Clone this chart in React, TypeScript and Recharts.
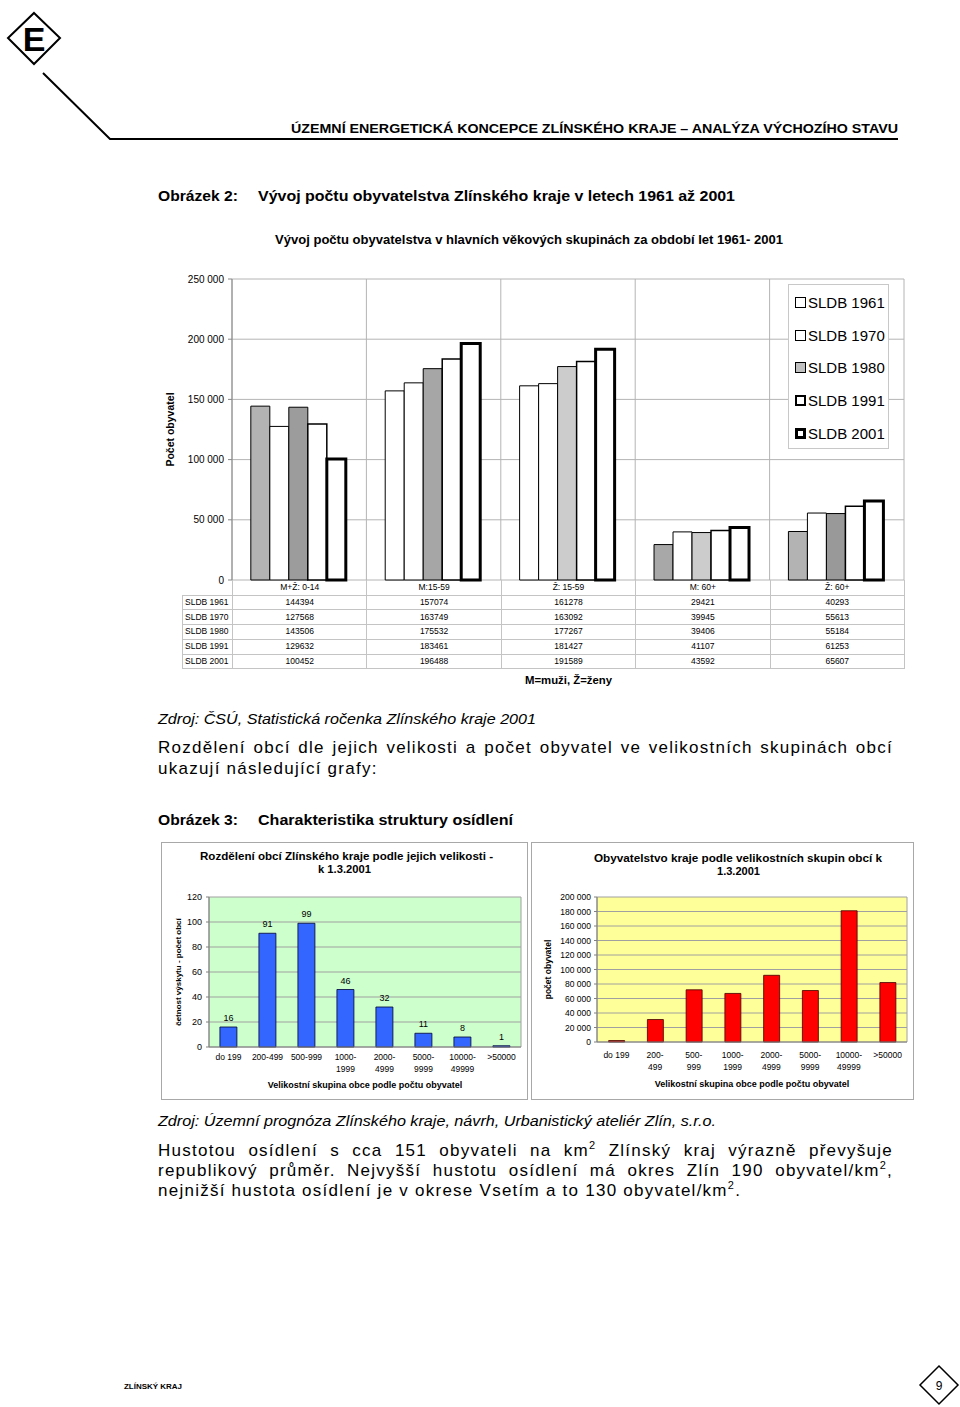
import React from "react";
import { BarChart, Bar, XAxis, YAxis, CartesianGrid, Cell, Legend, LabelList } from "recharts";

// --- Obrázek 2: census by age group ---
const ageGroups = ["M+Ž: 0-14", "M:15-59", "Ž: 15-59", "M: 60+", "Ž: 60+"];
const sldb1961 = [144394, 157074, 161278, 29421, 40293];
const sldb1970 = [127568, 163749, 163092, 39945, 55613];
const sldb1980 = [143506, 175532, 177267, 39406, 55184];
const sldb1991 = [129632, 183461, 181427, 41107, 61253];
const sldb2001 = [100452, 196488, 191589, 43592, 65607];
const censusTicks = [0, 50000, 100000, 150000, 200000, 250000];

// --- Obrázek 3: municipalities by size ---
const sizeGroupsCount = ["do 199", "200-499", "500-999", "1000-\n1999", "2000-\n4999", "5000-\n9999", "10000-\n49999", ">50000"];
const municipalityCounts = [16, 91, 99, 46, 32, 11, 8, 1];
const countTicks = [0, 20, 40, 60, 80, 100, 120];

const sizeGroupsPop = ["do 199", "200-\n499", "500-\n999", "1000-\n1999", "2000-\n4999", "5000-\n9999", "10000-\n49999", ">50000"];
const populationBySize = [2000, 31000, 72000, 67000, 92000, 71000, 181000, 82000];
const popTicks = [0, 20000, 40000, 60000, 80000, 100000, 120000, 140000, 160000, 180000, 200000];

const FONT = "'Liberation Sans', Arial, sans-serif";
const NARROW = "'Liberation Sans Narrow', 'Liberation Sans', Arial, sans-serif";

const censusSeries = [
  { key: "s1961", name: "SLDB 1961", values: sldb1961 },
  { key: "s1970", name: "SLDB 1970", values: sldb1970 },
  { key: "s1980", name: "SLDB 1980", values: sldb1980 },
  { key: "s1991", name: "SLDB 1991", values: sldb1991 },
  { key: "s2001", name: "SLDB 2001", values: sldb2001 },
];

// fills per series per group (the original is not consistent)
const censusFills = [
  ["#b3b3b3", "#ffffff", "#ffffff", "#a8a8a8", "#b3b3b3"],
  ["#ffffff", "#ffffff", "#ffffff", "#ffffff", "#ffffff"],
  ["#9c9c9c", "#a6a6a6", "#cccccc", "#cccccc", "#999999"],
  ["#ffffff", "#ffffff", "#ffffff", "#ffffff", "#ffffff"],
  ["#ffffff", "#ffffff", "#ffffff", "#ffffff", "#ffffff"],
];
const censusStrokes = [1, 1, 1, 1.5, 3];
const legendSwatchFill = ["#fff", "#fff", "#c0c0c0", "#fff", "#fff"];
const legendSwatchBorder = [1, 1, 1, 2, 3];

const censusData = ageGroups.map((g, i) => {
  const row: any = { group: g };
  censusSeries.forEach((s) => (row[s.key] = s.values[i]));
  return row;
});
const countData = sizeGroupsCount.map((g, i) => ({ group: g, count: municipalityCounts[i] }));
const popData = sizeGroupsPop.map((g, i) => ({ group: g, pop: populationBySize[i] }));

const spaced = (v: number) => String(v).replace(/\B(?=(\d{3})+(?!\d))/g, " ");

// vertical grid lines on category boundaries / plot edges
const boundaryLines = (n: number) => ({ offset }: any) =>
  Array.from({ length: n + 1 }, (_, i) => offset.left + (i * offset.width) / n);

const vTitle = (text: string, dx: number, size: number) => (props: any) => {
  const { viewBox } = props;
  const cx = viewBox.x + dx;
  const cy = viewBox.y + viewBox.height / 2;
  return (
    <text x={cx} y={cy} transform={`rotate(-90 ${cx} ${cy})`} textAnchor="middle" dominantBaseline="central"
      fontSize={size} fontWeight="bold" fontFamily={FONT} fill="#000">
      {text}
    </text>
  );
};

const MultiLineTick = (props: any) => {
  const { x, y, payload, firstDy } = props;
  const lines = String(payload.value).split("\n");
  return (
    <text x={x} y={y} textAnchor="middle" fontSize={8.5} fontFamily={FONT} fill="#000">
      {lines.map((l, i) => (
        <tspan key={i} x={x} dy={i === 0 ? firstDy : 11.5}>{l}</tspan>
      ))}
    </text>
  );
};

const CensusLegend = () => (
  <div style={{ width: 99, height: 162, border: "1px solid #c8c8c8", background: "#fff", paddingTop: 1, fontFamily: FONT }}>
    {censusSeries.map((s, i) => (
      <div key={s.key} style={{ display: "flex", alignItems: "center", height: 32.7, paddingLeft: 6 }}>
        <span style={{ width: 9 - legendSwatchBorder[i] * 2 + 2, height: 9 - legendSwatchBorder[i] * 2 + 2,
          border: `${legendSwatchBorder[i]}px solid #000`, background: legendSwatchFill[i], marginRight: 2 }} />
        <span style={{ fontSize: 15, color: "#000" }}>{s.name}</span>
      </div>
    ))}
  </div>
);

const cell: React.CSSProperties = { border: "1px solid #c4c4c4", textAlign: "center", padding: 0, lineHeight: "13px" };

const CensusTable = () => (
  <table style={{ position: "absolute", left: 182, top: 580, width: 722, borderCollapse: "collapse", tableLayout: "fixed",
    fontSize: 8.5, fontFamily: FONT, color: "#000" }}>
    <colgroup>
      <col style={{ width: 50 }} />
      {ageGroups.map((g) => <col key={g} style={{ width: 134.4 }} />)}
    </colgroup>
    <tbody>
      <tr style={{ height: 15 }}>
        <td style={{ padding: 0, border: "none" }} />
        {ageGroups.map((g) => <td key={g} style={{ ...cell, borderTop: "none" }}>{g}</td>)}
      </tr>
      {censusSeries.map((s) => (
        <tr key={s.key} style={{ height: 14.8 }}>
          <td style={{ ...cell, textAlign: "left", paddingLeft: 2, whiteSpace: "nowrap" }}>{s.name}</td>
          {s.values.map((v, i) => <td key={i} style={cell}>{v}</td>)}
        </tr>
      ))}
    </tbody>
  </table>
);

const T = (p: any) => (
  <text dominantBaseline="central" fontFamily={FONT} fill="#000" lengthAdjust="spacingAndGlyphs" {...p} />
);

const lineStyle = (last: boolean): React.CSSProperties => ({
  textAlign: last ? "left" : "justify",
  textAlignLast: last ? "left" : "justify",
  whiteSpace: "nowrap",
});

const sup = { fontSize: 11, lineHeight: 0 };

export default function App() {
  return (
    <div style={{ position: "absolute", left: 0, top: 0, width: 960, height: 1407, background: "#fff", fontFamily: FONT, color: "#000" }}>
      <svg width={960} height={1407} style={{ position: "absolute", left: 0, top: 0 }}>
        <polygon points="34,13 60,38 34,64 8,38" fill="none" stroke="#000" strokeWidth={2} />
        <text x={34} y={39} textAnchor="middle" dominantBaseline="central" fontSize={34} fontWeight="bold" fontFamily={NARROW}>E</text>
        <polyline points="43,73 110,139 898,139" fill="none" stroke="#000" strokeWidth={2} />
        <T x={291} y={128} fontSize={13} fontWeight="bold" fontFamily={NARROW} textLength={607}>ÚZEMNÍ ENERGETICKÁ KONCEPCE ZLÍNSKÉHO KRAJE – ANALÝZA VÝCHOZÍHO STAVU</T>

        <T x={158} y={196} fontSize={14} fontWeight="bold" textLength={80}>Obrázek 2:</T>
        <T x={258} y={196} fontSize={14} fontWeight="bold" textLength={477}>Vývoj počtu obyvatelstva Zlínského kraje v letech 1961 až 2001</T>
        <T x={275} y={240} fontSize={12} fontWeight="bold" textLength={508}>Vývoj počtu obyvatelstva v hlavních věkových skupinách za období let 1961- 2001</T>
        <T x={525} y={680} fontSize={10.5} fontWeight="bold" textLength={87}>M=muži,  Ž=ženy</T>
        <T x={158} y={719} fontSize={14} fontStyle="italic" textLength={378}>Zdroj: ČSÚ, Statistická ročenka Zlínského kraje 2001</T>

        <T x={158} y={820} fontSize={14} fontWeight="bold" textLength={80}>Obrázek 3:</T>
        <T x={258} y={820} fontSize={14} fontWeight="bold" textLength={255}>Charakteristika struktury osídlení</T>

        <T x={200} y={856} fontSize={10} fontWeight="bold" textLength={293}>Rozdělení obcí Zlínského kraje podle jejich velikosti -</T>
        <T x={318} y={869} fontSize={10} fontWeight="bold" textLength={53}>k 1.3.2001</T>
        <T x={594} y={858} fontSize={10} fontWeight="bold" textLength={288}>Obyvatelstvo kraje podle velikostních skupin obcí k</T>
        <T x={717} y={871} fontSize={10} fontWeight="bold" textLength={43}>1.3.2001</T>

        <T x={158} y={1121} fontSize={14} fontStyle="italic" textLength={558}>Zdroj: Územní prognóza Zlínského kraje, návrh, Urbanistický ateliér Zlín, s.r.o.</T>

        <T x={124} y={1386} fontSize={8} fontWeight="bold" textLength={58}>ZLÍNSKÝ KRAJ</T>
        <polygon points="939,1366 958,1385 939,1404 920,1385" fill="none" stroke="#000" strokeWidth={1.5} />
        <text x={939} y={1386} textAnchor="middle" dominantBaseline="central" fontSize={12} fontFamily={FONT}>9</text>
      </svg>

      {/* Chart 1 */}
      <div style={{ position: "absolute", left: 160, top: 270 }}>
        <BarChart width={760} height={322} data={censusData} margin={{ top: 9, right: 16, left: 0, bottom: 12 }}
          barGap={0} barCategoryGap="14%">
          <CartesianGrid stroke="#b4b4b4" verticalCoordinatesGenerator={boundaryLines(ageGroups.length)} />
          <XAxis dataKey="group" tick={false} height={0} axisLine={{ stroke: "#333" }} tickLine={false} />
          <YAxis width={72} domain={[0, 250000]} ticks={censusTicks} interval={0} tickFormatter={spaced} tickSize={4} tickMargin={4}
            tick={{ fontSize: 10, fill: "#000", fontFamily: FONT }} axisLine={{ stroke: "#888" }} tickLine={{ stroke: "#888" }}
            label={vTitle("Počet obyvatel", 10, 10.5)} />
          {censusSeries.map((s, si) => (
            <Bar key={s.key} dataKey={s.key} name={s.name} stroke="#000" strokeWidth={censusStrokes[si]}
              isAnimationActive={false}>
              {ageGroups.map((g, gi) => <Cell key={g} fill={censusFills[si][gi]} />)}
            </Bar>
          ))}
          <Legend layout="horizontal" align="center" verticalAlign="middle" content={<CensusLegend />}
            wrapperStyle={{ left: 628, top: 14, width: 101, height: 164 }} />
        </BarChart>
      </div>
      <CensusTable />

      {/* Paragraph 1 */}
      <div style={{ position: "absolute", left: 158, top: 737, width: 735, fontSize: 17, lineHeight: "21px", letterSpacing: 1.25 }}>
        <div style={lineStyle(false)}>Rozdělení obcí dle jejich velikosti a počet obyvatel ve velikostních skupinách obcí</div>
        <div style={lineStyle(true)}>ukazují následující grafy:</div>
      </div>

      {/* Chart 2 */}
      <div style={{ position: "absolute", left: 161, top: 842, width: 365, height: 256, border: "1px solid #a8a8a8" }} />
      <div style={{ position: "absolute", left: 161, top: 887 }}>
        <BarChart width={367} height={208} data={countData} margin={{ top: 10, right: 7, left: 0, bottom: 0 }} barCategoryGap="28%">
          <CartesianGrid fill="#ccffcc" stroke="#a0a0a0" verticalCoordinatesGenerator={boundaryLines(1)} />
          <XAxis dataKey="group" interval={0} height={48} tickLine={false} tickSize={0} tickMargin={0}
            axisLine={{ stroke: "#808080" }} tick={(p: any) => <MultiLineTick {...p} firstDy={13} />}
            label={{ value: "Velikostní skupina obce podle počtu obyvatel", position: "insideBottom", offset: 7,
              fontSize: 9, fontWeight: "bold", fill: "#000", fontFamily: FONT }} />
          <YAxis width={48} domain={[0, 120]} ticks={countTicks} interval={0} tickSize={3} tickMargin={4}
            tick={{ fontSize: 9, fill: "#000", fontFamily: FONT }} axisLine={{ stroke: "#808080" }} tickLine={{ stroke: "#808080" }}
            label={vTitle("četnost výskytu - počet obcí", 17, 8)} />
          <Bar dataKey="count" fill="#3366ff" stroke="#000033" strokeWidth={0.8} isAnimationActive={false}>
            <LabelList dataKey="count" position="top" offset={6} fontSize={9} fill="#000" fontFamily={FONT} />
          </Bar>
        </BarChart>
      </div>

      {/* Chart 3 */}
      <div style={{ position: "absolute", left: 531, top: 842, width: 381, height: 256, border: "1px solid #a8a8a8" }} />
      <div style={{ position: "absolute", left: 531, top: 887 }}>
        <BarChart width={383} height={208} data={popData} margin={{ top: 10, right: 7, left: 0, bottom: 0 }} barCategoryGap="30%">
          <CartesianGrid fill="#ffff99" stroke="#a0a0a0" verticalCoordinatesGenerator={boundaryLines(1)} />
          <XAxis dataKey="group" interval={0} height={53} tickLine={false} tickSize={0} tickMargin={0}
            axisLine={{ stroke: "#808080" }} tick={(p: any) => <MultiLineTick {...p} firstDy={16} />}
            label={{ value: "Velikostní skupina obce podle počtu obyvatel", position: "insideBottom", offset: 8,
              fontSize: 9, fontWeight: "bold", fill: "#000", fontFamily: FONT }} />
          <YAxis width={66} domain={[0, 200000]} ticks={popTicks} interval={0} tickFormatter={spaced} tickSize={3} tickMargin={3}
            tick={{ fontSize: 8.5, fill: "#000", fontFamily: FONT }} axisLine={{ stroke: "#808080" }} tickLine={{ stroke: "#808080" }}
            label={vTitle("počet obyvatel", 17, 8.5)} />
          <Bar dataKey="pop" fill="#ff0000" stroke="#400000" strokeWidth={0.8} isAnimationActive={false} />
        </BarChart>
      </div>

      {/* Paragraph 2 */}
      <div style={{ position: "absolute", left: 158, top: 1141, width: 735, fontSize: 17, lineHeight: "20px", letterSpacing: 1.25 }}>
        <div style={lineStyle(false)}>Hustotou osídlení s cca 151 obyvateli na km<sup style={sup}>2</sup> Zlínský kraj výrazně převyšuje</div>
        <div style={lineStyle(false)}>republikový průměr. Nejvyšší hustotu osídlení má okres Zlín 190 obyvatel/km<sup style={sup}>2</sup>,</div>
        <div style={lineStyle(true)}>nejnižší hustota osídlení je v okrese Vsetím a to 130 obyvatel/km<sup style={sup}>2</sup>.</div>
      </div>
    </div>
  );
}
